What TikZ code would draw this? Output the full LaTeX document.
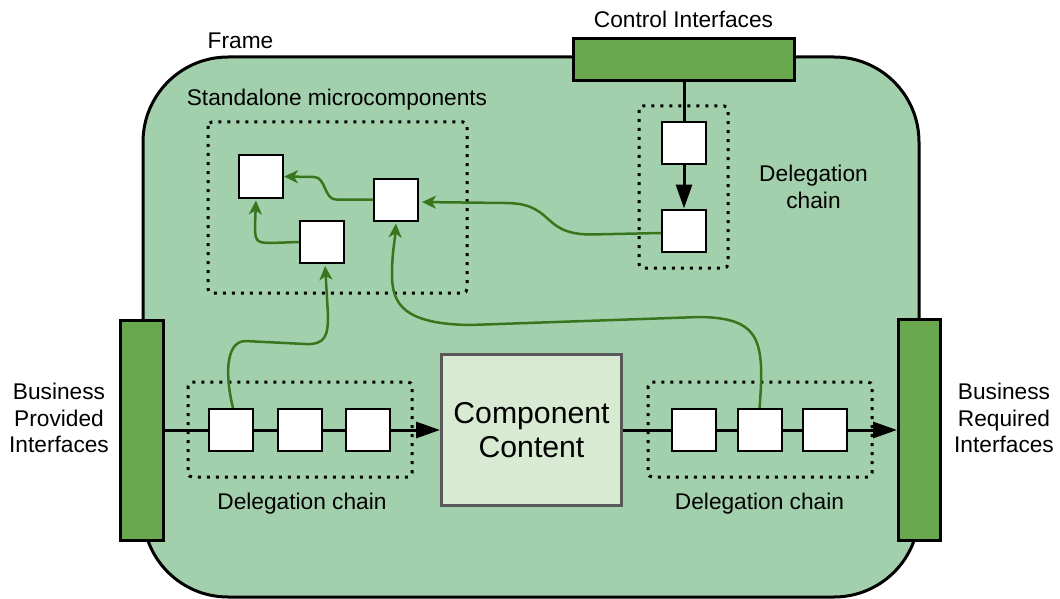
\documentclass[tikz,border=0pt]{standalone}
\usepackage{fontspec}
\setmainfont{Liberation Sans}
\usetikzlibrary{arrows.meta}
\definecolor{framefill}{HTML}{A3D0AC}
\definecolor{barfill}{HTML}{6AA84F}
\definecolor{contentfill}{HTML}{D9EAD3}
\definecolor{contentline}{HTML}{595959}
\definecolor{linkgreen}{HTML}{38761D}

\begin{document}
\begin{tikzpicture}[x=1pt,y=-1pt,
  lbl/.style={font=\fontsize{22.7}{26.5}\selectfont, inner sep=0pt, align=center},
  unit/.style={draw, fill=white, line width=2pt, minimum width=44pt, minimum height=42pt, inner sep=0pt},
  bar/.style={draw, fill=barfill, line width=3pt, inner sep=0pt},
  group/.style={draw, line width=3pt, dash pattern=on 3pt off 6pt, rounded corners=4pt},
  wire/.style={line width=3pt},
  flow/.style={line width=3pt, -{Triangle[length=24pt,width=16pt]}},
  link/.style={draw=linkgreen, line width=2.5pt, -{Stealth[length=14pt,width=13pt,inset=4pt]}},
]
\useasboundingbox (0,0) rectangle (1060,599);

% component frame
\draw[line width=3pt, fill=framefill, rounded corners=85pt] (143,57) rectangle (919,597);

% interface bars
\node[bar, minimum width=221pt, minimum height=42pt] (ctrl) at (684,59.5) {};
\node[bar, minimum width=43pt, minimum height=220pt] (lb) at (142,430) {};
\node[bar, minimum width=42pt, minimum height=221pt] (rb) at (919.5,430) {};

% dotted groups
\draw[group] (188,382) rectangle (412,477);
\draw[group] (648,382) rectangle (872,477);
\draw[group] (639,106) rectangle (728,268);
\draw[group] (208,122) rectangle (467,293);

% component content
\node[draw=contentline, fill=contentfill, line width=3pt, minimum width=180pt, minimum height=151pt,
      align=center, font=\fontsize{30.2}{34}\selectfont] (content) at (531.5,430) {Component\\Content};

% delegation chains
\node[unit] (c1) at (230.5,430) {};
\node[unit] (c2) at (300,430) {};
\node[unit] (c3) at (368,430) {};
\node[unit] (r1) at (694,430) {};
\node[unit] (r2) at (759.5,430) {};
\node[unit] (r3) at (824.5,430) {};
\node[unit] (dA) at (684,143) {};
\node[unit] (dB) at (684,230.5) {};

% standalone microcomponents
\node[unit] (m1) at (261,176.5) {};
\node[unit] (m2) at (396,199.5) {};
\node[unit] (m3) at (322,242) {};

% business flow
\draw[wire] (lb) -- (c1);
\draw[wire] (c1) -- (c2);
\draw[wire] (c2) -- (c3);
\draw[flow] (c3) -- (content);
\draw[wire] (content) -- (r1);
\draw[wire] (r1) -- (r2);
\draw[wire] (r2) -- (r3);
\draw[flow] (r3) -- (rb);

% control flow
\draw[wire] (ctrl) -- (dA);
\draw[flow] (dA) -- (dB);

% links to microcomponents
\draw[link] (m2.west) -- (336,199.5) .. controls (324,199.5) and (326,177) .. (314,177) -- (m1.east);
\draw[link, shorten >=2pt] (m3.west) -- (270,243) .. controls (256,243) and (255,240) .. (255,226) -- ([xshift=-5pt]m1.south);
\draw[link, shorten >=3pt] ([yshift=-2.5pt]dB.west) -- (590,234.5) .. controls (540,234) and (555,203) .. (505,203) -- ([yshift=-2.5pt]m2.east);
\draw[link, shorten >=2pt] ([xshift=2.5pt]c1.north) .. controls (226,380) and (224,342) .. (245,341) -- (305,344) .. controls (326,345) and (328,335) .. (328,315) -- ([xshift=3pt]m3.south);
\draw[link, shorten >=2pt] (r2.north) .. controls (765,340) and (760,318) .. (700,317) -- (470,325) .. controls (405,324) and (392,305) .. (392,275) .. controls (392,252) and (395,240) .. (m2.south);

% labels (multi-line ones are placed by the baseline of their last line)
\node[lbl, anchor=base] (framelbl) at (240.5,49) {Frame};
\node[lbl, anchor=base] (ctrllbl) at (683.5,28) {Control Interfaces};
\node[lbl, anchor=base] (standlbl) at (337,106) {Standalone microcomponents};
\node[lbl, anchor=base] (dleftlbl) at (302,509) {Delegation chain};
\node[lbl, anchor=base] (drightlbl) at (759.5,509) {Delegation chain};
\node[lbl, anchor=base] (dtoplbl) at (813.5,208) {Delegation\\chain};
\node[lbl, anchor=base] (bplbl) at (59,452.5) {Business\\Provided\\Interfaces};
\node[lbl, anchor=base] (brlbl) at (1004,452.5) {Business\\Required\\Interfaces};
\end{tikzpicture}
\end{document}
